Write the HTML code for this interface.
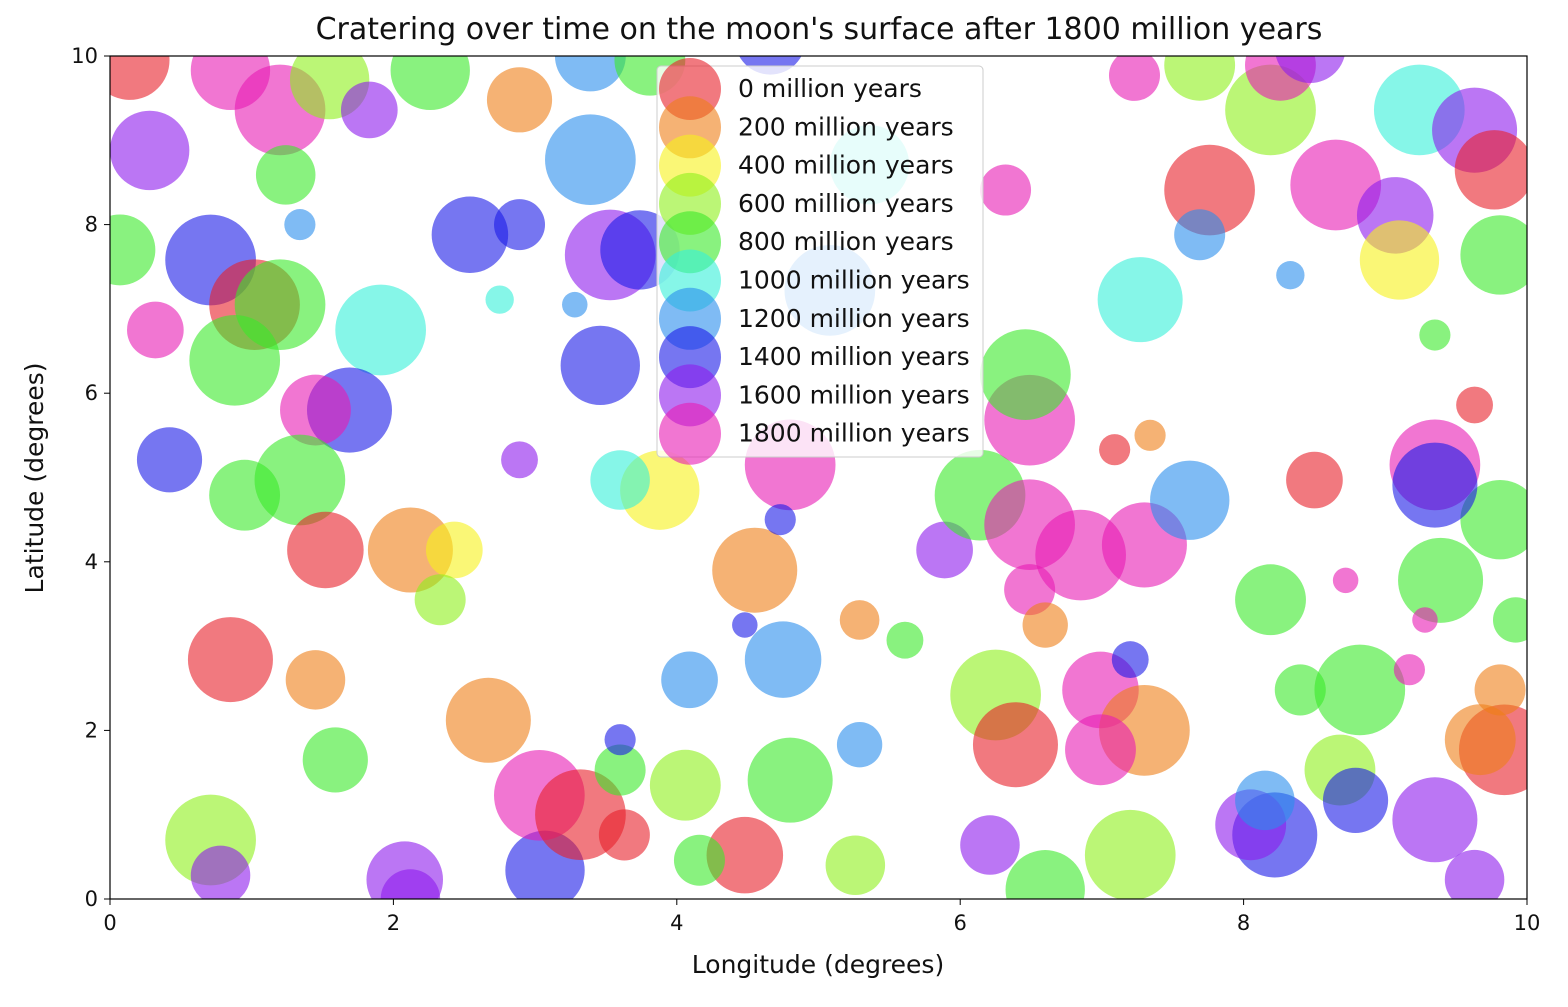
<!DOCTYPE html>
<html><head><meta charset="utf-8"><style>
html,body{margin:0;padding:0;background:#fff;}
svg text{font-family:"DejaVu Sans","Liberation Sans",sans-serif;fill:#111;}
</style></head><body>
<svg id="chart" width="1568" height="1002" viewBox="0 0 1568 1002" xmlns="http://www.w3.org/2000/svg">
<defs><clipPath id="pc"><rect x="110" y="56" width="1417" height="843"/></clipPath></defs>
<text x="819" y="39" text-anchor="middle" font-size="30">Cratering over time on the moon's surface after 1800 million years</text>
<g id="marks" clip-path="url(#pc)"></g>
<rect x="110" y="56" width="1417" height="843" fill="none" stroke="#000" stroke-width="1.2"/>
<g id="axes"></g>
<text x="818" y="973" text-anchor="middle" font-size="25">Longitude (degrees)</text>
<text transform="translate(43,478) rotate(-90)" text-anchor="middle" font-size="25">Latitude (degrees)</text>
<g id="legend"></g>
</svg>
<script>
const ages = [0,200,400,600,800,1000,1200,1400,1600,1800];
const ageColors = ["#e8202a","#ee7f18","#f6f21a","#8ef01a","#3aea2a","#35f0d8","#2a8eec","#1a1ae8","#8e1aec","#e81ab4"];
// craters: longitude, latitude, radius (degrees), age index
const craterLon = [.14,.85,1.20,.28,.71,1.02,1.20,.88,.07,.32,1.91,1.69,1.45,.42,.95,1.34,1.52,2.12,2.43,2.33,.85,1.45,2.67,1.59,.71,.78,2.08,3.07,3.03,3.32,3.63,3.60,4.06,4.09,4.75,4.80,4.48,5.26,5.29,4.55,3.88,3.60,3.46,2.54,2.89,3.39,3.53,3.74,2.89,3.39,2.26,1.55,1.83,1.24,4.80,5.89,6.14,6.49,6.49,6.46,6.85,7.30,7.62,6.49,6.25,6.39,6.99,7.30,6.99,6.60,7.20,6.21,8.19,8.82,8.40,9.39,9.81,9.35,9.35,8.50,9.84,9.67,8.68,8.79,9.35,8.22,8.05,8.15,7.76,7.69,8.19,8.26,8.65,9.07,9.10,9.24,9.63,9.77,9.81,7.27,7.23,7.69,6.32,5.36,5.08,7.20,6.60,9.92,9.81,9.63,5.61,5.29,3.81,4.66,8.47,4.16,2.12,2.89,1.34,3.60,4.73,4.48,8.33,9.35,9.63,7.09,7.34,8.72,9.28,9.17,3.28,2.75];
const craterLat = [9.95,9.83,9.36,8.88,7.58,7.05,7.05,6.39,7.70,6.75,6.75,5.80,5.80,5.21,4.79,4.97,4.14,4.14,4.14,3.55,2.84,2.60,2.12,1.65,.70,.28,.23,.34,1.23,1.00,.76,1.53,1.35,2.60,2.84,1.41,.52,.40,3.31,3.90,4.85,4.97,6.33,7.88,8.00,8.77,7.64,7.70,9.48,10.0,9.83,9.72,9.36,8.59,5.15,4.14,4.79,4.44,5.68,6.22,4.08,4.20,4.73,3.67,2.42,1.83,2.48,2.00,1.77,.11,.52,.64,3.55,2.48,2.48,3.78,4.50,5.15,4.91,4.97,1.77,1.89,1.53,1.17,.94,.76,.88,1.17,8.41,7.88,9.36,9.89,8.47,8.11,7.58,9.36,9.12,8.65,7.64,7.11,9.77,9.89,8.41,8.71,7.22,2.84,3.25,3.31,2.48,.23,3.07,1.83,9.95,10.2,10.1,.46,0,5.21,8.00,1.89,4.50,3.25,7.40,6.69,5.86,5.33,5.50,3.78,3.31,2.72,7.05,7.11];
const craterSize = [.28,.28,.32,.28,.32,.32,.32,.32,.25,.20,.32,.30,.25,.23,.25,.32,.27,.30,.20,.18,.30,.21,.30,.23,.32,.21,.27,.28,.32,.32,.18,.18,.25,.20,.27,.30,.27,.21,.14,.30,.28,.21,.28,.27,.18,.32,.32,.28,.23,.25,.28,.28,.20,.21,.32,.20,.32,.32,.32,.32,.32,.30,.28,.18,.32,.30,.27,.32,.25,.28,.32,.21,.25,.32,.18,.30,.28,.32,.30,.20,.32,.25,.25,.23,.30,.30,.25,.21,.32,.18,.32,.25,.32,.27,.28,.32,.30,.28,.28,.30,.18,.25,.18,.28,.32,.13,.16,.16,.18,.21,.13,.16,.25,.25,.25,.18,.21,.13,.11,.11,.11,.09,.10,.11,.13,.11,.11,.09,.09,.11,.09,.10];
const craterAge = [0,9,9,8,7,0,4,4,4,9,5,7,9,7,4,4,0,1,2,3,0,1,1,4,3,8,8,7,9,0,0,4,3,6,6,4,0,3,1,1,2,5,7,7,7,6,8,7,1,6,4,3,8,4,9,8,4,9,9,4,9,9,6,9,3,0,9,1,9,4,3,8,4,4,4,4,4,9,7,0,0,1,3,7,8,7,8,6,0,6,3,9,9,8,2,5,8,0,4,5,9,3,9,5,6,7,1,4,1,8,4,6,4,7,8,4,8,8,6,7,7,7,6,4,0,0,1,9,9,9,6,5];
const xTicks = [0,2,4,6,8,10];
const yTicks = [0,2,4,6,8,10];

const NS = "http://www.w3.org/2000/svg";
const X0=110, X1=1527, Y0=899, Y1=56;
const xs = v => X0 + (X1-X0)*v/10;
const ys = v => Y0 - (Y0-Y1)*v/10;
const rs = v => (X1-X0)*v/10;

const marks = document.getElementById('marks');
for (let i=0;i<craterLon.length;i++){
  const c=document.createElementNS(NS,'circle');
  c.setAttribute('cx',xs(craterLon[i]));
  c.setAttribute('cy',ys(craterLat[i]));
  c.setAttribute('r',rs(craterSize[i]));
  c.setAttribute('fill',ageColors[craterAge[i]]);
  c.setAttribute('fill-opacity','0.6');
  
  
  marks.appendChild(c);
}
const axes=document.getElementById('axes');
xTicks.forEach(t=>{
  const l=document.createElementNS(NS,'line');
  l.setAttribute('x1',xs(t));l.setAttribute('x2',xs(t));l.setAttribute('y1',Y0);l.setAttribute('y2',Y0+6);l.setAttribute('stroke','#000');
  
  
  axes.appendChild(l);
  const tx=document.createElementNS(NS,'text');
  tx.setAttribute('x',xs(t));tx.setAttribute('y',Y0+31);tx.setAttribute('text-anchor','middle');tx.setAttribute('font-size','21');
  tx.textContent=t;
  
  
  axes.appendChild(tx);
});
yTicks.forEach(t=>{
  const l=document.createElementNS(NS,'line');
  l.setAttribute('x1',X0-6);l.setAttribute('x2',X0);l.setAttribute('y1',ys(t));l.setAttribute('y2',ys(t));l.setAttribute('stroke','#000');
  
  
  axes.appendChild(l);
  const tx=document.createElementNS(NS,'text');
  tx.setAttribute('x',X0-12);tx.setAttribute('y',ys(t)+7);tx.setAttribute('text-anchor','end');tx.setAttribute('font-size','21');
  tx.textContent=t;
  
  
  axes.appendChild(tx);
});
const lg=document.getElementById('legend');
const bg=document.createElementNS(NS,'rect');
bg.setAttribute('x',657);bg.setAttribute('y',66);bg.setAttribute('width',326);bg.setAttribute('height',391);bg.setAttribute('rx',4);
bg.setAttribute('fill','#fff');bg.setAttribute('fill-opacity','0.8');bg.setAttribute('stroke','#ccc');


lg.appendChild(bg);
ages.forEach((a,i)=>{
  const y=89+i*38.3;
  const c=document.createElementNS(NS,'circle');
  c.setAttribute('cx',690);c.setAttribute('cy',y);c.setAttribute('r',31);
  c.setAttribute('fill',ageColors[i]);c.setAttribute('fill-opacity','0.6');
  
  
  lg.appendChild(c);
  const t=document.createElementNS(NS,'text');
  t.setAttribute('x',738);t.setAttribute('y',y+8);t.setAttribute('font-size','25');
  t.textContent=a+' million years';
  
  
  lg.appendChild(t);
});
</script>
</body></html>
